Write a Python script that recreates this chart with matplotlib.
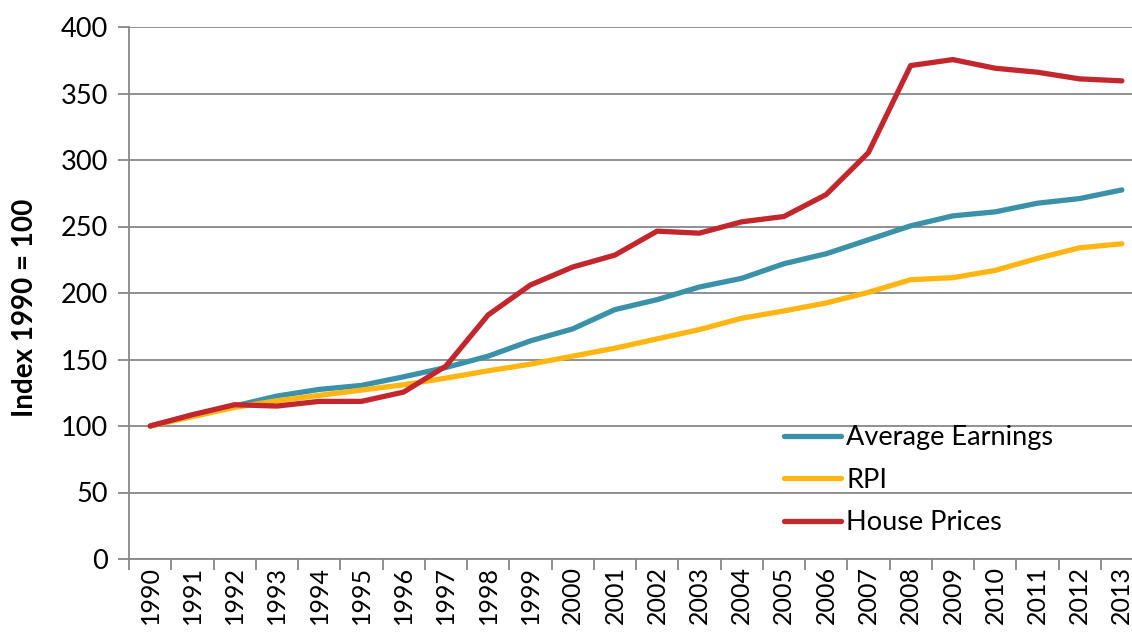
import numpy as np
import matplotlib.pyplot as plt

plt.rcParams['font.family'] = ['Lato', 'DejaVu Sans']

years = [str(y) for y in range(1990, 2014)]
earnings = [100, 108, 115, 122.5, 127.5, 130.5, 137, 144, 152.5, 164, 173, 187.5,
            195, 204.5, 211, 222, 229.5, 240, 250.5, 258, 261, 267.5, 271, 277.5]
rpi = [100, 107, 114, 119, 123, 127, 131, 136, 141.5, 146.5, 152.5, 158.5,
       165.5, 172.5, 181, 186.5, 192.5, 200.5, 210, 211.5, 217, 226, 234, 237]
house = [100, 108.5, 116, 115, 118.5, 118.5, 125.5, 145, 183.5, 206, 219.5, 228.5,
         246.5, 245, 253.5, 257.5, 274, 305.5, 371, 375.5, 369, 366, 361, 359.5]

fig = plt.figure(figsize=(11.32, 6.37), dpi=100)
ax = fig.add_axes([129/1132, 1 - 559/637, 1014/1132, 532/637])

x = np.arange(len(years))
ax.plot(x, earnings, color='#3A91A8', lw=3.8, solid_capstyle='round', label='Average Earnings')
ax.plot(x, rpi, color='#FFB612', lw=3.8, solid_capstyle='round', label='RPI')
ax.plot(x, house, color='#C1272D', lw=3.8, solid_capstyle='round', label='House Prices')

ax.set_xlim(-0.5, len(years) - 0.5)
ax.set_ylim(0, 400)
ax.set_yticks(np.arange(0, 401, 50))
ax.yaxis.grid(True, color='#878787', lw=1.3)
ax.set_axisbelow(True)

ax.set_xticks(x)
ax.set_xticklabels(years, rotation=90)
ax.set_xticks(np.arange(-0.5, len(years), 1), minor=True)
ax.tick_params(axis='x', which='major', length=0, pad=5, labelsize=18)
ax.tick_params(axis='x', which='minor', length=8, color='#878787', width=1.3)
ax.tick_params(axis='y', length=8, color='#878787', width=1.3, labelsize=19.5, pad=7)

for side in ['top', 'right']:
    ax.spines[side].set_visible(False)
for side in ['left', 'bottom']:
    ax.spines[side].set_color('#878787')
    ax.spines[side].set_linewidth(1.3)

# y-axis title sits a little below the axis centre
fig.text(25/1132, 1 - 308/637, 'Index 1990 = 100', rotation=90, ha='center', va='center',
         fontsize=20, fontweight='bold')

ax.legend(loc='upper left', bbox_to_anchor=(0.635, 0.272), frameon=False, fontsize=19.5,
          handlelength=2.1, handletextpad=0.2, labelspacing=0.65, borderaxespad=0)

fig.savefig('out.png', dpi=100)
